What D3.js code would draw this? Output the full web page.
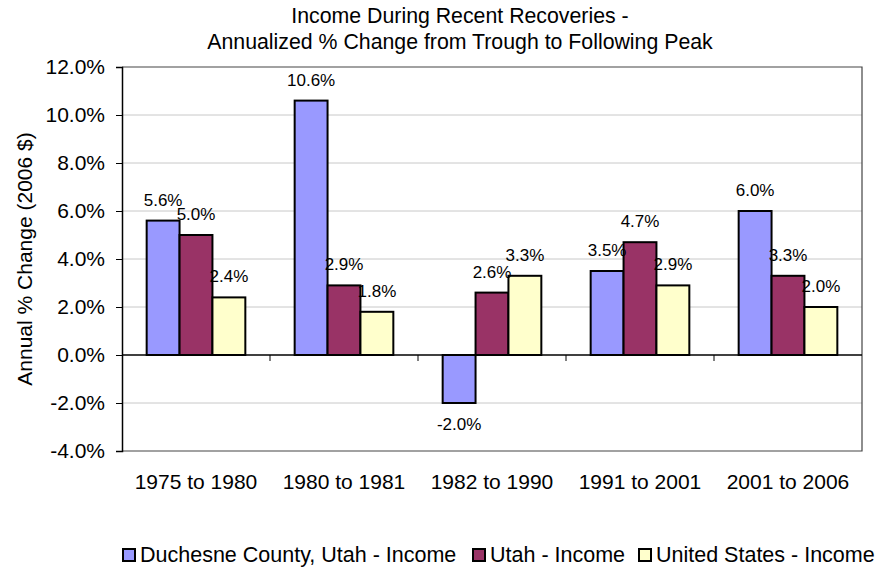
<!DOCTYPE html>
<html><head><meta charset="utf-8">
<script src="https://cdn.jsdelivr.net/npm/d3@7"></script>
<style>body{margin:0;background:#fff}svg{display:block;font-family:"Liberation Sans",Arial,sans-serif}</style>
</head><body><svg id="c" width="879" height="569"></svg>
<script>
const categories = ["1975 to 1980","1980 to 1981","1982 to 1990","1991 to 2001","2001 to 2006"];
const seriesNames = ["Duchesne County, Utah - Income","Utah - Income","United States - Income"];
const duchesne = [5.6, 10.6, -2.0, 3.5, 6.0];
const utah = [5.0, 2.9, 2.6, 4.7, 3.3];
const us = [2.4, 1.8, 3.3, 2.9, 2.0];
const colors = ["#9999FF","#993366","#FFFFCC"];
const yTicks = [-4,-2,0,2,4,6,8,10,12];
const titleLines = ["Income During Recent Recoveries -","Annualized % Change from Trough to Following Peak"];
const yTitle = "Annual % Change (2006 $)";

const series = [duchesne, utah, us];
const svg = d3.select("#c");
const L = 122, R = 862, T = 67, B = 451;
const x = d3.scaleBand().domain(categories).range([L, R]).paddingInner(0).paddingOuter(0);
const bw = x.bandwidth() / 4.5;
const x1 = d3.scaleBand().domain(d3.range(3)).range([0.75*bw, 3.75*bw]);
const y = d3.scaleLinear().domain([-4, 12]).range([B, T]);

// gridlines
svg.append("g").selectAll("line").data(yTicks.filter(t => t !== 0 && t !== -4 && t !== 12)).join("line")
  .attr("x1", L).attr("x2", R).attr("y1", d => y(d)).attr("y2", d => y(d))
  .attr("stroke", "#c8c8c8").attr("stroke-width", 1);
// plot border
svg.append("path").attr("d", `M${L},${T}H${R}V${B}H${L}`).attr("fill","none").attr("stroke","#444").attr("stroke-width",1.2);

// bars
const g = svg.append("g");
series.forEach((vals, si) => {
  g.append("g").selectAll("rect").data(vals).join("rect")
    .attr("x", (d,i) => x(categories[i]) + x1(si))
    .attr("width", x1.bandwidth())
    .attr("y", d => y(Math.max(0,d)))
    .attr("height", d => Math.abs(y(d) - y(0)))
    .attr("fill", colors[si]).attr("stroke", "#000").attr("stroke-width", 2);
});

// y axis
const yAxis = d3.axisLeft(y).tickValues(yTicks).tickFormat(d => d.toFixed(1) + "%").tickSizeOuter(0).tickSize(6).tickPadding(11);
const ya = svg.append("g").attr("transform", `translate(${L},0)`).call(yAxis);
ya.select(".domain").attr("stroke","#000").attr("stroke-width",1.5);
ya.selectAll(".tick line").attr("stroke","#000");
ya.selectAll("text").attr("font-size", 21).attr("fill","#000").attr("font-family","Liberation Sans, Arial, sans-serif");

// zero line with category ticks
svg.append("line").attr("x1", L).attr("x2", R).attr("y1", y(0)).attr("y2", y(0)).attr("stroke","#000").attr("stroke-width",1.5);
svg.append("g").selectAll("line").data(categories.slice(1)).join("line")
  .attr("x1", d => x(d)).attr("x2", d => x(d)).attr("y1", y(0)).attr("y2", y(0)+6).attr("stroke","#000");

// category labels
svg.append("g").selectAll("text").data(categories).join("text")
  .attr("x", d => x(d) + x.bandwidth()/2).attr("y", 489)
  .attr("text-anchor","middle").attr("font-size", 21).text(d => d);

// data labels
series.forEach((vals, si) => {
  svg.append("g").selectAll("text").data(vals).join("text")
    .attr("x", (d,i) => x(categories[i]) + x1(si) + x1.bandwidth()/2)
    .attr("y", d => d >= 0 ? y(d) - 15 : y(d) + 27)
    .attr("text-anchor","middle").attr("font-size", 17).text(d => d.toFixed(1) + "%");
});

// title
svg.append("g").selectAll("text").data(titleLines).join("text")
  .attr("x", 460).attr("y", (d,i) => 22.5 + i*26).attr("text-anchor","middle").attr("font-size", 21.3).text(d => d);

// y title
svg.append("text").attr("transform", `translate(32,${(T+B)/2}) rotate(-90)`).attr("text-anchor","middle").attr("font-size", 21).text(yTitle);

// legend
const lg = svg.append("g");
const legendX = [123, 473, 639];
seriesNames.forEach((n, i) => {
  lg.append("rect").attr("x", legendX[i]).attr("y", 549).attr("width", 12).attr("height", 12).attr("fill", colors[i]).attr("stroke","#000").attr("stroke-width",2);
  lg.append("text").attr("x", legendX[i] + 17).attr("y", 561.5).attr("font-size", 21.5).text(n);
});
</script></body></html>
